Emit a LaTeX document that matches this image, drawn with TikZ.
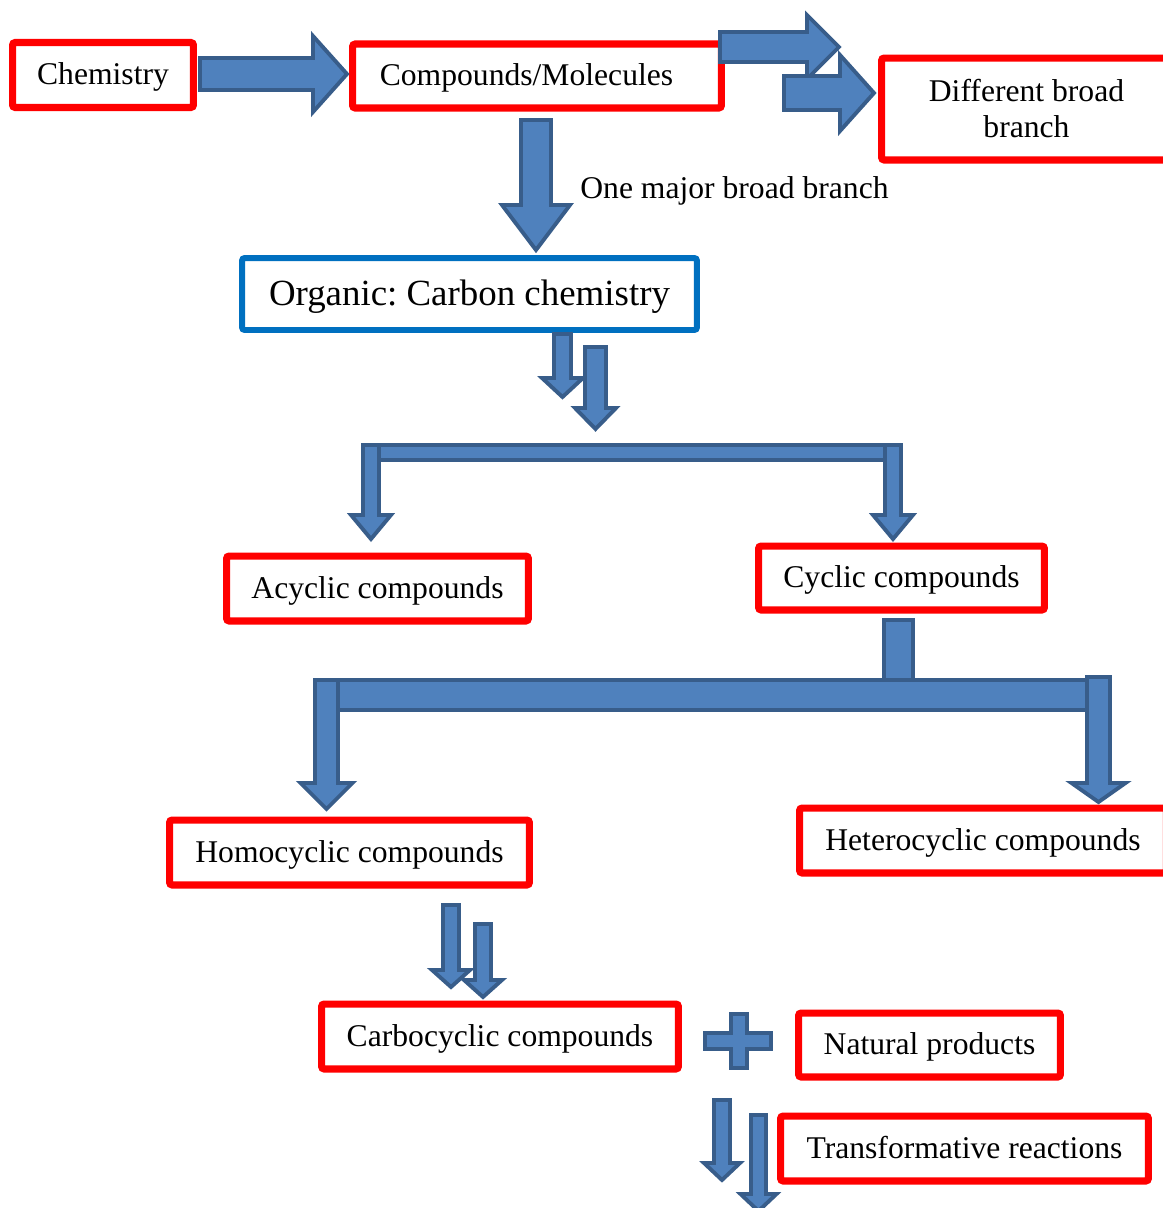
\documentclass[tikz,border=0pt]{standalone}
\usepackage{fontspec}
\setmainfont{Liberation Serif}
\frenchspacing
\definecolor{boxred}{HTML}{FF0000}
\definecolor{boxblue}{HTML}{0070C0}
\definecolor{arrowfill}{HTML}{4F81BD}
\definecolor{arrowline}{HTML}{385D8A}

% block arrows: x (or y), start, head start, tip, half shaft, half head
\newcommand{\blockdown}[6]{%
  \draw[blockarrow] (#1-#5,#2) -- (#1+#5,#2) -- (#1+#5,#3) -- (#1+#6,#3) -- (#1,#4) -- (#1-#6,#3) -- (#1-#5,#3) -- cycle;}
\newcommand{\blockright}[6]{%
  \draw[blockarrow] (#2,#1-#5) -- (#3,#1-#5) -- (#3,#1-#6) -- (#4,#1) -- (#3,#1+#6) -- (#3,#1+#5) -- (#2,#1+#5) -- cycle;}

\begin{document}
\begin{tikzpicture}[x=0.02cm, y=-0.02cm,
						every node/.style={font=\fontsize{18}{20.5}\selectfont},
						oneline/.style={text height=12.6pt, text depth=1.3pt},
						frame/.style={draw=boxred, line width=4pt, rounded corners=1.5pt, fill=white, inner sep=0pt, minimum height=1.30cm},
						box/.style={frame, oneline},
						orgbox/.style={box, draw=boxblue, line width=3.4pt, text height=14.7pt, text depth=1.5pt, font=\fontsize{21}{24}\selectfont},
						blockarrow/.style={fill=arrowfill, draw=arrowline, line width=2.2pt},
					]
					\useasboundingbox (0,0) rectangle (1163,1208);
					\clip (0,0) rectangle (1163,1208);

					\node[box, minimum width=3.62cm] (chem) at (103,75) {Chemistry};
					\node[box, minimum width=7.38cm, minimum height=1.28cm] (comp) at (537,76) {Compounds/Molecules\kern0.42cm};
					\node[frame, minimum width=5.96cm, minimum height=2.04cm, align=center] (diff) at (1030.5,109) {Different broad\hspace*{0.16cm}\\branch\hspace*{0.16cm}};
					\node[orgbox, minimum width=9.10cm, minimum height=1.44cm] (org) at (469.5,294) {Organic: Carbon chemistry};
					\node[oneline, anchor=west, inner sep=0pt] (major) at (580,189) {One major broad branch};
					\node[box, minimum width=6.04cm] (acyc) at (377.5,588.5) {Acyclic compounds};
					\node[box, minimum width=5.72cm, minimum height=1.28cm] (cyc) at (901.5,578) {Cyclic compounds};
					\node[box, minimum width=7.20cm] (homo) at (349.5,852.5) {Homocyclic compounds};
					\node[box, minimum width=7.34cm] (hetero) at (983,840.5) {Heterocyclic compounds};
					\node[box, minimum width=7.14cm] (carbo) at (500,1036.5) {Carbocyclic compounds};
					\node[box, minimum width=5.24cm, minimum height=1.28cm] (nat) at (929.5,1045) {Natural products};
					\node[box, minimum width=7.36cm] (trans) at (964.5,1148.5) {Transformative reactions};

					% top row
					\blockright{74}{200}{313}{347}{16}{38}
					\blockright{47}{720}{807}{839}{15}{32}
					\blockright{93}{784}{840}{874}{17}{38}
					\blockdown{536}{120}{205}{250}{15}{34}

					% below organic
					\blockdown{562.5}{334}{378}{397}{8.5}{20.5}
					\blockdown{595.5}{347}{408}{429}{10.5}{20.5}
					\draw[blockarrow] (363,445) rectangle (901,460);
					\blockdown{371}{445}{515}{539}{8}{20}
					\blockdown{893}{445}{515}{539}{8}{20}

					% below cyclic
					\draw[blockarrow] (884,620) rectangle (913,680);
					\draw[blockarrow] (315,680) rectangle (1090,710);
					\blockdown{326.5}{680}{783}{809}{11.5}{26}
					\blockdown{1098.5}{677}{783}{802}{11.5}{27}

					% homocyclic to carbocyclic
					\blockdown{451}{905}{970}{987}{8}{19}
					\blockdown{483}{924}{980}{997}{8}{19}

					% plus sign
					\draw[blockarrow] (731,1014) -- (747,1014) -- (747,1033) -- (771,1033) -- (771,1049) -- (747,1049) -- (747,1068)
						-- (731,1068) -- (731,1049) -- (705,1049) -- (705,1033) -- (731,1033) -- cycle;

					% to transformative reactions
					\blockdown{722}{1100}{1163}{1180}{8}{18}
					\blockdown{758.5}{1115}{1194}{1211}{7.5}{18}

				\end{tikzpicture}
\end{document}
